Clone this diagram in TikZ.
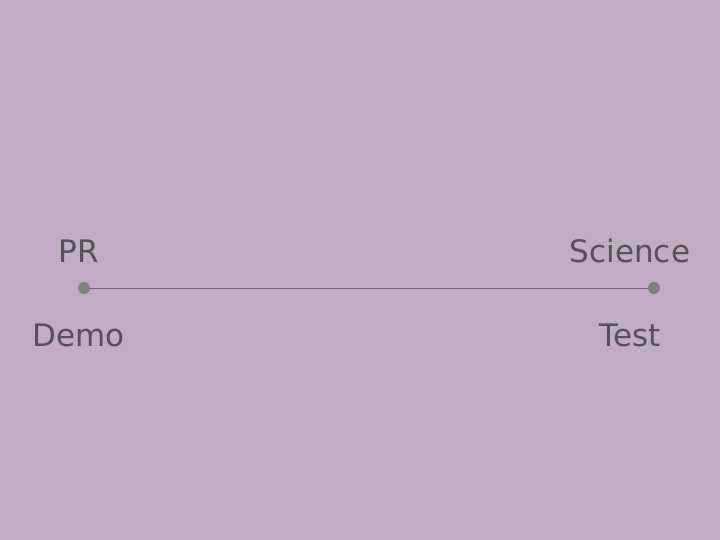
\documentclass[tikz,border=0pt]{standalone}
\usepackage{fontspec}
\setmainfont{DejaVu Sans}
\definecolor{bg}{HTML}{C2ABC4}
\definecolor{txt}{HTML}{57505A}
\definecolor{dotc}{HTML}{808080}
\definecolor{linec}{HTML}{6E6470}
\begin{document}
\begin{tikzpicture}[x=1pt,y=1pt,
  lbl/.style={anchor=base,text=txt,font=\fontsize{31}{36}\selectfont,inner sep=0pt},
  dotn/.style={circle,fill=dotc,minimum size=12pt,inner sep=0pt}]
\fill[bg] (0,0) rectangle (720,540);
\useasboundingbox (0,0) rectangle (720,540);
\node[dotn] (l) at (84,252) {};
\node[dotn] (r) at (654,252) {};
\draw[linec,line width=0.9pt] (l) -- (r);
\node[lbl] (pr) at (78.5,277) {PR};
\node[lbl] (demo) at (78.5,193) {Demo};
\node[lbl] (sci) at (630,277) {Science};
\node[lbl] (test) at (630,193) {Test};
\end{tikzpicture}
\end{document}
